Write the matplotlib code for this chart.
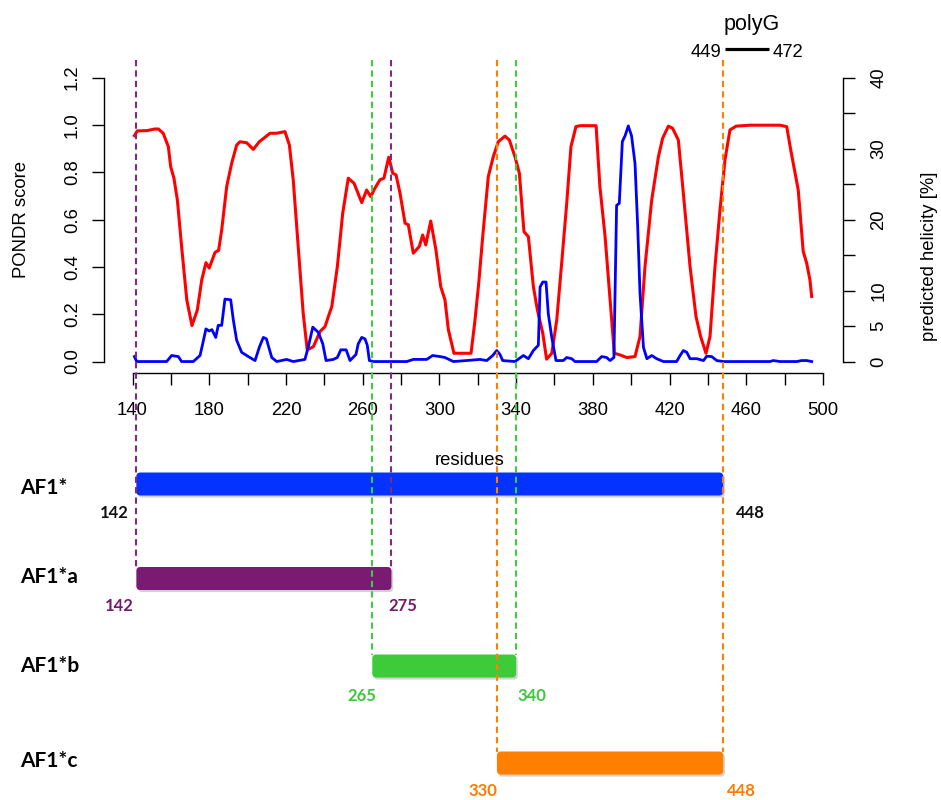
import matplotlib
matplotlib.use("Agg")
import matplotlib.pyplot as plt
from matplotlib.patches import FancyBboxPatch
import matplotlib.patheffects as pe

# ---------------- data ----------------
pondr_res = [141, 142.5, 147.4, 151.7, 153.5, 156, 158.7, 159.9, 161.6, 163.4, 165.6, 168.3, 171, 173.8,
             176.1, 178.3, 180, 183, 184.9, 186.5, 189.1, 191.7, 194.3, 196, 199.5, 203, 206.1, 211.7,
             215.2, 219.5, 221.8, 223.8, 226.4, 229, 231.1, 234.3, 237.8, 240.4, 242.1, 243.9, 246.8,
             249.6, 252.5, 255.5, 259.5, 262.1, 264.2, 266.4, 269, 271.1, 273.6, 275.7, 277.4, 279.5,
             282.1, 283.8, 286.4, 289.5, 291.3, 292.9, 295.5, 298.2, 300.7, 302.9, 304.7, 307.6, 316.5,
             318.5, 320.5, 322.5, 325.5, 328.1, 330.7, 334.2, 336.5, 339.4, 341.7, 344.1, 346.4, 349,
             351.1, 353.9, 355.9, 358.6, 361.2, 363.8, 366.4, 368.6, 371.2, 373.3, 381.7, 383.7, 386.4,
             389, 391.2, 394.2, 397.7, 402, 404.6, 407.2, 410.7, 414.2, 416.4, 419.4, 421.6, 424.6,
             427.2, 430.7, 433.8, 436.2, 439, 441.1, 443.7, 446.3, 448.9, 451.5, 454.7, 462, 477.6,
             481.1, 483.2, 484.5, 487.1, 489.7, 491.5, 493.2, 494.1]
pondr_val = [0.955, 0.975, 0.976, 0.983, 0.983, 0.965, 0.908, 0.824, 0.775, 0.683, 0.486, 0.261, 0.152, 0.218,
             0.345, 0.418, 0.395, 0.461, 0.47, 0.556, 0.739, 0.838, 0.915, 0.929, 0.925, 0.897, 0.929, 0.965,
             0.965, 0.972, 0.915, 0.768, 0.486, 0.204, 0.049, 0.063, 0.127, 0.148, 0.19, 0.232, 0.401,
             0.627, 0.775, 0.754, 0.672, 0.725, 0.697, 0.733, 0.768, 0.775, 0.864, 0.796, 0.789, 0.711,
             0.585, 0.578, 0.458, 0.486, 0.535, 0.493, 0.594, 0.472, 0.317, 0.261, 0.134, 0.035, 0.035,
             0.17, 0.33, 0.52, 0.782, 0.866, 0.929, 0.953, 0.936, 0.866, 0.796, 0.549, 0.528, 0.317,
             0.218, 0.12, 0.01, 0.035, 0.176, 0.42, 0.669, 0.908, 0.993, 0.997, 0.997, 0.739, 0.528,
             0.261, 0.035, 0.028, 0.017, 0.021, 0.106, 0.401, 0.683, 0.866, 0.944, 0.995, 0.986, 0.936,
             0.711, 0.401, 0.19, 0.106, 0.035, 0.106, 0.401, 0.641, 0.852, 0.979, 0.995, 0.999, 0.999,
             0.993, 0.894, 0.838, 0.725, 0.465, 0.416, 0.345, 0.275]

helix_res = [141, 142.2, 157.8, 160.4, 163.9, 165.6, 171.7, 175.2, 176.4, 178.3, 180, 181.4, 183.4, 184.7,
             186.5, 188.2, 191.2, 192.6, 194.3, 196.9, 200.4, 203.9, 206.1, 208.2, 209.8, 212.6, 215.2,
             220.4, 223.8, 229.9, 231.6, 234, 236.9, 239.2, 240.9, 244.7, 246.8, 248.6, 251.4, 253.4,
             256.5, 257.7, 259.5, 261.2, 262.4, 263.5, 265.5, 283, 286.4, 293.4, 296.5, 300.3, 302.9,
             307.3, 314.2, 321.2, 324.7, 327.8, 329.9, 331.6, 333, 339.4, 343.8, 346.4, 349, 351.6,
             352.5, 353.9, 355.6, 356.8, 358.6, 360.8, 364.6, 366.4, 369, 370.7, 382, 384.6, 387.2, 389,
             391, 392.4, 393.8, 395.4, 396.8, 398.5, 400.2, 402, 403.4, 404.6, 406.4, 408.2, 410.7,
             413.3, 416.8, 423.7, 425.5, 427.2, 429, 430.7, 434.2, 437.7, 439.4, 442, 444.6, 448.1,
             472.4, 474.1, 477.6, 486.3, 488.9, 491.5, 494.1]
helix_val = [0.7, 0, 0, 0.85, 0.7, 0, 0, 0.85, 2.26, 4.6, 4.3, 4.5, 3.4, 5.1,
             5.1, 8.8, 8.7, 5.8, 3.0, 1.3, 0.7, 0.14, 2.0, 3.4, 3.2, 0.57, 0,
             0.3, 0, 0.3, 2.0, 4.85, 4.1, 2.5, 0.14, 0.3, 0.57, 1.65, 1.65, 0.14,
             1.0, 2.5, 3.4, 3.2, 2.3, 0.14, 0, 0, 0.3, 0.3, 0.85, 0.7, 0.57,
             0, 0.14, 0.3, 0.14, 0.85, 1.55, 1.0, 0.14, 0, 0.85, 0.4, 1.55, 2.3,
             10.5, 11.2, 11.2, 6.7, 3.4, 0.14, 0.14, 0.57, 0.4, 0, 0, 0.7, 0.57, 0.14,
             0.57, 22.0, 22.3, 31.0, 31.8, 33.2, 31.8, 27.9, 19.0, 9.6, 2.0, 0.4, 0.85,
             0.4, 0, 0, 0.85, 1.55, 1.3, 0.4, 0.4, 0.14, 0.75, 0.7, 0.14, 0,
             0, 0.14, 0, 0, 0.14, 0.14, 0]

x_ticks = list(range(140, 501, 20))
x_ticklabels = [str(v) if (v - 140) % 40 == 0 else "" for v in x_ticks]
y_left_ticks = [0.0, 0.2, 0.4, 0.6, 0.8, 1.0, 1.2]
y_left_labels = ["0.0", "0.2", "0.4", "0.6", "0.8", "1.0", "1.2"]
y_right_ticks = [0, 5, 10, 15, 20, 25, 30, 35, 40]
y_right_labels = ["0", "5", "10", "", "20", "", "30", "", "40"]

constructs = ["AF1*", "AF1*a", "AF1*b", "AF1*c"]
starts = [142, 142, 265, 330]
ends = [448, 275, 340, 448]
polyG = [449, 472]

# ---------------- styles / layout ----------------
W, H = 941, 800
PPU = 1.918      # pixels per residue
X140 = 132.5     # pixel of residue 140
AX_L, AX_R, AX_T, AX_B = 104, 843, 66.3, 372.9

bar_colors = ["#0433ff", "#7a1a73", "#3dcb3a", "#ff7f00"]
dash_colors = [None, "#7e2b80", "#40cc40", "#ff8000"]
num_colors = ["#111111", "#751a6e", "#3ac83a", "#ff7a00"]
bar_mid = [484, 578.5, 666, 763]
bar_h = 23
name_base = [494.3, 583.3, 671.7, 766.7]
num_base = [518.3, 610.7, 701, 796]
start_dx = [-8, -3, 4, 0]
end_dx = [13, -3, 1, 4]

helv = "Liberation Sans"
calib = "Lato"
fs = 13.3

fig = plt.figure(figsize=(W / 100, H / 100), dpi=100)


def fxy(px, py):
    return px / W, 1 - py / H


ax = fig.add_axes([AX_L / W, 1 - AX_B / H, (AX_R - AX_L) / W, (AX_B - AX_T) / H])
ax.set_xlim(140 - (X140 - AX_L) / PPU, 140 + (AX_R - X140) / PPU)
ax.set_ylim(-0.048, 1.248)
ax.patch.set_alpha(0)
ax.plot(pondr_res, pondr_val, color="#ff0000", lw=2.2, solid_joinstyle="round", zorder=3)

for s in ["top", "right"]:
    ax.spines[s].set_visible(False)
ax.spines["left"].set_bounds(0, 1.2)
ax.spines["bottom"].set_bounds(140, 500)
ax.spines["left"].set_linewidth(1.0)
ax.spines["bottom"].set_linewidth(1.0)
ax.set_xticks(x_ticks)
ax.set_xticklabels(x_ticklabels, fontfamily=helv, fontsize=fs)
ax.set_yticks(y_left_ticks)
ax.set_yticklabels(y_left_labels, fontfamily=helv, fontsize=fs, rotation=90, va="center")
ax.tick_params(axis="x", length=8.6, width=1.0, pad=12)
ax.tick_params(axis="y", length=8.6, width=1.0, pad=8)

ax2 = ax.twinx()
ax2.set_ylim(-0.048 * 40 / 1.2, 1.248 * 40 / 1.2)
ax2.plot(helix_res, helix_val, color="#0000ff", lw=2.0, solid_joinstyle="round", zorder=3)
for s in ["top", "left", "bottom"]:
    ax2.spines[s].set_visible(False)
ax2.spines["right"].set_bounds(0, 40)
ax2.spines["right"].set_linewidth(1.0)
ax2.set_yticks(y_right_ticks)
ax2.set_yticklabels(y_right_labels, fontfamily=helv, fontsize=fs, rotation=90, va="center")
ax2.tick_params(axis="y", length=8.6, width=1.0, pad=11)

fig.text(*fxy(21.7, 219.6), "PONDR score", rotation=90, ha="center", va="center",
         fontfamily=helv, fontsize=fs)
fig.text(*fxy(929, 256), "predicted helicity [%]", rotation=90, ha="center", va="center",
         fontfamily=helv, fontsize=fs)
fig.text(*fxy(470, 465), "residues", ha="center", va="baseline", fontfamily=helv, fontsize=fs)

# ---------------- overlay (construct map) ----------------
ov = fig.add_axes([0, 0, 1, 1])
ov.set_xlim(140 - X140 / PPU, 140 + (W - X140) / PPU)
ov.set_ylim(H, 0)
ov.axis("off")

# polyG
ov.plot(polyG, [49.3, 49.3], color="black", lw=2.3, solid_capstyle="butt")
ov.annotate("polyG", xy=(sum(polyG) / 2, 30), xytext=(4.5, 0), textcoords="offset pixels",
            ha="center", va="baseline", fontfamily=helv, fontsize=15.5)
ov.annotate(str(polyG[0]), xy=(polyG[0], 56.7), xytext=(-3.5, 0), textcoords="offset pixels",
            ha="right", va="baseline", fontfamily=helv, fontsize=fs)
ov.annotate(str(polyG[1]), xy=(polyG[1], 56.7), xytext=(3.5, 0), textcoords="offset pixels",
            ha="left", va="baseline", fontfamily=helv, fontsize=fs)

for i, name in enumerate(constructs):
    top = bar_mid[i] - bar_h / 2
    if dash_colors[i] is not None:
        for v in (starts[i], ends[i]):
            ov.plot([v, v], [60, top], color=dash_colors[i], lw=1.5, dashes=(3, 2), zorder=5)
    box = FancyBboxPatch((starts[i], top), ends[i] - starts[i], bar_h,
                         boxstyle="round,pad=0,rounding_size=2.1", mutation_aspect=PPU,
                         facecolor=bar_colors[i], edgecolor="none", zorder=4,
                         path_effects=[pe.SimplePatchShadow(offset=(1.2, -1.5), shadow_rgbFace="0.5",
                                                            alpha=0.35), pe.Normal()])
    ov.add_patch(box)
    fig.text(*fxy(20, name_base[i]), name, ha="left", va="baseline", fontfamily=calib,
             fontweight="bold", fontsize=15, color="black")
    ov.annotate(str(starts[i]), xy=(starts[i], num_base[i]), xytext=(start_dx[i], 0),
                textcoords="offset pixels", ha="right", va="baseline", fontfamily=calib,
                fontweight="bold", fontsize=12, color=num_colors[i])
    ov.annotate(str(ends[i]), xy=(ends[i], num_base[i]), xytext=(end_dx[i], 0),
                textcoords="offset pixels", ha="left", va="baseline", fontfamily=calib,
                fontweight="bold", fontsize=12, color=num_colors[i])

fig.savefig("out.png", dpi=100)
